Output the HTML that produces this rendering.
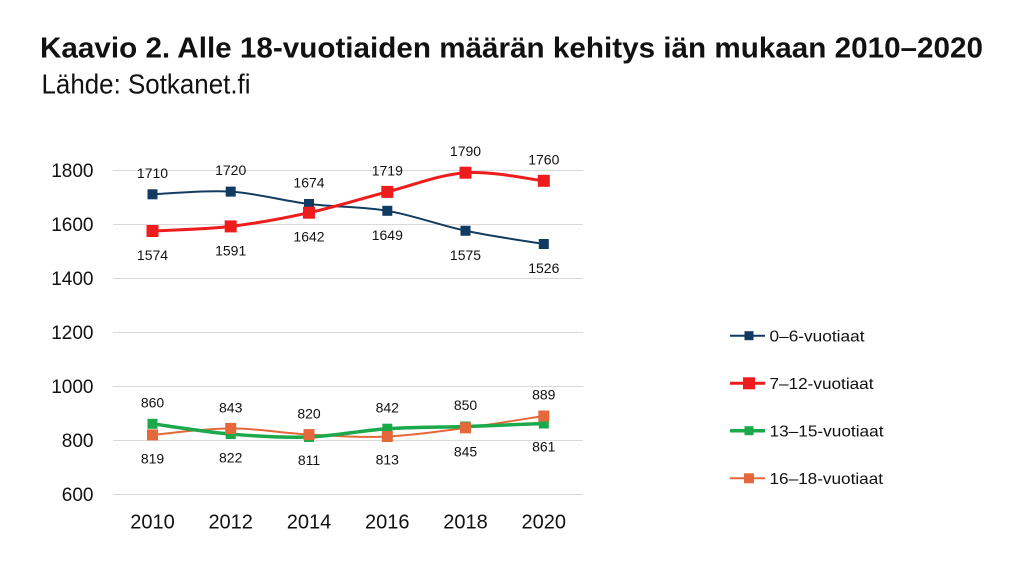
<!DOCTYPE html>
<html><head><meta charset="utf-8"><style>
html,body{margin:0;padding:0;background:#fff;}
svg{display:block;}
text{font-family:"Liberation Sans",sans-serif;fill:#111;}
</style></head><body>
<svg width="1024" height="581" viewBox="0 0 1024 581" xmlns="http://www.w3.org/2000/svg">
<rect width="1024" height="581" fill="#fff"/>
<text x="40" y="57.5" font-size="29" font-weight="bold" textLength="943" lengthAdjust="spacingAndGlyphs">Kaavio 2. Alle 18-vuotiaiden määrän kehitys iän mukaan 2010–2020</text>
<text x="41.5" y="93.3" font-size="28" textLength="209" lengthAdjust="spacingAndGlyphs">Lähde: Sotkanet.fi</text>

<g stroke="#d9d9d9" stroke-width="1">
<line x1="113" y1="170.5" x2="583" y2="170.5"/>
<line x1="113" y1="224.5" x2="583" y2="224.5"/>
<line x1="113" y1="278.5" x2="583" y2="278.5"/>
<line x1="113" y1="332.5" x2="583" y2="332.5"/>
<line x1="113" y1="386.5" x2="583" y2="386.5"/>
<line x1="113" y1="440.5" x2="583" y2="440.5"/>
<line x1="113" y1="494.5" x2="583" y2="494.5"/>
</g>

<g font-size="19" text-anchor="end">
<text x="93.5" y="177">1800</text>
<text x="93.5" y="231">1600</text>
<text x="93.5" y="285">1400</text>
<text x="93.5" y="339">1200</text>
<text x="93.5" y="393">1000</text>
<text x="93.5" y="447">800</text>
<text x="93.5" y="501">600</text>
</g>

<g font-size="20" text-anchor="middle">
<text x="152.5" y="528.5">2010</text>
<text x="230.7" y="528.5">2012</text>
<text x="309" y="528.5">2014</text>
<text x="387.3" y="528.5">2016</text>
<text x="465.5" y="528.5">2018</text>
<text x="543.8" y="528.5">2020</text>
</g>

<!-- orange 16-18 -->
<path fill="none" stroke="#e5683b" stroke-width="2" d="M152.5,434.9 C165.53,433.82 204.62,428.45 230.7,428.4 C256.78,428.35 282.9,433.25 309,434.6 C335.1,435.95 361.22,437.63 387.3,436.5 C413.38,435.38 439.42,431.27 465.5,427.85 C491.58,424.43 530.75,417.98 543.8,416"/>
<!-- green 13-15 -->
<path fill="none" stroke="#1ba94c" stroke-width="3.5" d="M152.5,423.8 C165.53,425.51 204.62,431.86 230.7,434.06 C256.78,436.26 282.9,437.89 309,437 C335.1,436.11 361.22,430.45 387.3,428.7 C413.38,426.95 439.42,427.37 465.5,426.5 C491.58,425.63 530.75,424 543.8,423.5"/>
<g fill="#1ba94c">
<rect x="147.5" y="418.8" width="10" height="10"/>
<rect x="225.7" y="429.06" width="10" height="10"/>
<rect x="304" y="432" width="10" height="10"/>
<rect x="382.3" y="423.7" width="10" height="10"/>
<rect x="460.5" y="421.5" width="10" height="10"/>
<rect x="538.8" y="418.5" width="10" height="10"/>
</g>
<g fill="#e5683b">
<rect x="147" y="429.4" width="11" height="11"/>
<rect x="225.2" y="422.9" width="11" height="11"/>
<rect x="303.5" y="429.1" width="11" height="11"/>
<rect x="381.8" y="431" width="11" height="11"/>
<rect x="460" y="422.35" width="11" height="11"/>
<rect x="538.3" y="410.5" width="11" height="11"/>
</g>

<!-- blue 0-6 -->
<path fill="none" stroke="#123b61" stroke-width="2" d="M152.5,194.3 C165.53,193.85 204.62,189.98 230.7,191.6 C256.78,193.22 282.9,200.8 309,204 C335.1,207.2 361.22,206.34 387.3,210.8 C413.38,215.26 439.42,225.22 465.5,230.75 C491.58,236.28 530.75,241.79 543.8,244"/>
<!-- red 7-12 -->
<path fill="none" stroke="#ee1c1c" stroke-width="3" d="M152.5,231 C165.53,230.23 204.62,229.45 230.7,226.4 C256.78,223.35 282.9,218.45 309,212.7 C335.1,206.95 361.22,198.57 387.3,191.9 C413.38,185.23 439.42,174.55 465.5,172.7 C491.58,170.85 530.75,179.45 543.8,180.8"/>
<g fill="#123b61">
<rect x="147.5" y="189.3" width="10" height="10"/>
<rect x="225.7" y="186.6" width="10" height="10"/>
<rect x="304" y="199" width="10" height="10"/>
<rect x="382.3" y="205.8" width="10" height="10"/>
<rect x="460.5" y="225.75" width="10" height="10"/>
<rect x="538.8" y="239" width="10" height="10"/>
</g>
<g fill="#ee1c1c">
<rect x="146.5" y="225" width="12" height="12"/>
<rect x="224.7" y="220.4" width="12" height="12"/>
<rect x="303" y="206.7" width="12" height="12"/>
<rect x="381.3" y="185.9" width="12" height="12"/>
<rect x="459.5" y="166.7" width="12" height="12"/>
<rect x="537.8" y="174.8" width="12" height="12"/>
</g>

<g font-size="14" text-anchor="middle">
<!-- blue labels -->
<text x="152.5" y="177.8">1710</text>
<text x="230.7" y="175.1">1720</text>
<text x="309" y="187.5">1674</text>
<text x="387.3" y="239.8">1649</text>
<text x="465.5" y="259.8">1575</text>
<text x="543.8" y="273">1526</text>
<!-- red labels -->
<text x="152.5" y="260">1574</text>
<text x="230.7" y="255.4">1591</text>
<text x="309" y="241.7">1642</text>
<text x="387.3" y="175.4">1719</text>
<text x="465.5" y="156.2">1790</text>
<text x="543.8" y="164.3">1760</text>
<!-- green labels -->
<text x="152.5" y="407.5">860</text>
<text x="230.7" y="462.3">822</text>
<text x="309" y="465">811</text>
<text x="387.3" y="412.3">842</text>
<text x="465.5" y="410">850</text>
<text x="543.8" y="451.7">861</text>
<!-- orange labels -->
<text x="152.5" y="463.3">819</text>
<text x="230.7" y="412.3">843</text>
<text x="309" y="418.3">820</text>
<text x="387.3" y="464.3">813</text>
<text x="465.5" y="456.7">845</text>
<text x="543.8" y="399.3">889</text>
</g>

<!-- legend -->
<g>
<line x1="730" y1="335.7" x2="765" y2="335.7" stroke="#123b61" stroke-width="2"/>
<rect x="744.5" y="331.2" width="9" height="9" fill="#123b61"/>
<text x="769.5" y="341.3" font-size="16" textLength="95" lengthAdjust="spacingAndGlyphs">0–6-vuotiaat</text>

<line x1="730" y1="383.3" x2="765" y2="383.3" stroke="#ee1c1c" stroke-width="3"/>
<rect x="743" y="377.3" width="12" height="12" fill="#ee1c1c"/>
<text x="769.5" y="388.9" font-size="16" textLength="104" lengthAdjust="spacingAndGlyphs">7–12-vuotiaat</text>

<line x1="730" y1="430.7" x2="765" y2="430.7" stroke="#1ba94c" stroke-width="3.5"/>
<rect x="744.5" y="426.2" width="9" height="9" fill="#1ba94c"/>
<text x="769.5" y="436.3" font-size="16" textLength="114" lengthAdjust="spacingAndGlyphs">13–15-vuotiaat</text>

<line x1="730" y1="478.3" x2="765" y2="478.3" stroke="#e5683b" stroke-width="2"/>
<rect x="744" y="473.3" width="10" height="10" fill="#e5683b"/>
<text x="769.5" y="483.9" font-size="16" textLength="113.5" lengthAdjust="spacingAndGlyphs">16–18-vuotiaat</text>
</g>
</svg>
</body></html>
